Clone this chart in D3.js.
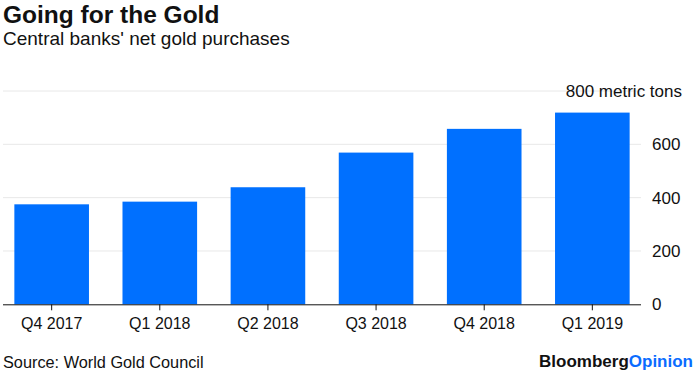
<!DOCTYPE html>
<html>
<head>
<meta charset="utf-8">
<script src="https://cdn.jsdelivr.net/npm/d3@7"></script>
<style>
  body { margin: 0; background: #fff; }
  svg text { font-family: "Liberation Sans", Arial, sans-serif; fill: #111; }
</style>
</head>
<body>
<div id="chart"></div>
<script>
var width = 700;
var height = 374;

// data
var quarters = ["Q4 2017", "Q1 2018", "Q2 2018", "Q3 2018", "Q4 2018", "Q1 2019"];
var purchases = [375, 385, 439, 569, 658, 719];
var yTicks = [0, 200, 400, 600, 800];

var svg = d3.select("#chart")
            .append("svg")
            .attr("width", width)
            .attr("height", height);

var xScale = d3.scaleBand().domain(quarters).range([3, 641]).paddingInner(0.31).paddingOuter(0.105);
var yScale = d3.scaleLinear().domain([0, 800]).range([304.3, 91]);

// title block
svg.append("text")
   .attr("x", 3).attr("y", 23)
   .style("font-size", "24.5px").style("font-weight", "bold")
   .text("Going for the Gold");

svg.append("text")
   .attr("x", 3).attr("y", 45)
   .style("font-size", "19px")
   .text("Central banks' net gold purchases");

// gridlines
svg.append("g")
   .selectAll("line")
   .data(yTicks.filter(function(d) { return d > 0; }))
   .enter()
   .append("line")
   .attr("x1", 3).attr("x2", 641)
   .attr("y1", function(d) { return yScale(d); })
   .attr("y2", function(d) { return yScale(d); })
   .attr("stroke", "#e8e8e8")
   .attr("stroke-width", 1);

// bars
svg.append("g")
   .selectAll("rect")
   .data(purchases)
   .enter()
   .append("rect")
   .attr("x", function(d, i) { return xScale(quarters[i]); })
   .attr("width", xScale.bandwidth())
   .attr("y", function(d) { return yScale(d); })
   .attr("height", function(d) { return yScale(0) - yScale(d); })
   .attr("fill", "#0070ff");

// y labels on the right
svg.append("g")
   .selectAll("text")
   .data(yTicks)
   .enter()
   .append("text")
   .attr("x", function(d) { return d == 800 ? 682 : 652; })
   .attr("y", function(d) { return yScale(d) + 6; })
   .style("text-anchor", function(d) { return d == 800 ? "end" : "start"; })
   .style("font-size", "17px")
   .text(function(d) { return d == 800 ? "800 metric tons" : d; });

// x axis
var xAxis = d3.axisBottom().scale(xScale).tickSize(6).tickPadding(7);
var xg = svg.append("g")
   .attr("transform", "translate(0," + yScale(0) + ")")
   .call(xAxis);
xg.select(".domain").attr("d", "M3,0.5H641").attr("stroke", "#111");
xg.selectAll(".tick line").attr("stroke", "#111");
xg.selectAll(".tick text")
  .style("font-size", "16px")
  .style("font-family", "Liberation Sans, Arial, sans-serif")
  .attr("fill", "#111");

// footer
svg.append("text")
   .attr("x", 3).attr("y", 367.5)
   .style("font-size", "16.3px")
   .text("Source: World Gold Council");

var brand = svg.append("text")
   .attr("x", 693).attr("y", 367)
   .style("text-anchor", "end")
   .style("font-size", "17px")
   .style("font-weight", "bold");
brand.append("tspan").text("Bloomberg");
brand.append("tspan").style("fill", "#0a6cff").text("Opinion");
</script>
</body>
</html>
